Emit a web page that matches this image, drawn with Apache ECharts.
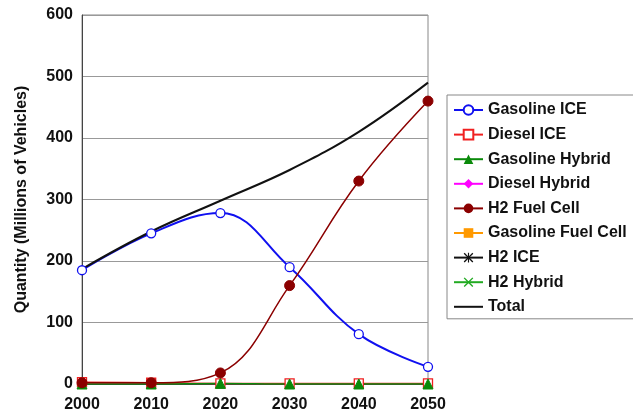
<!DOCTYPE html>
<html>
<head>
<meta charset="utf-8">
<script src="https://cdn.jsdelivr.net/npm/echarts@6/dist/echarts.min.js"></script>
<style>
html, body { margin: 0; padding: 0; background: #fff; }
#main { width: 633px; height: 416px; }
</style>
</head>
<body>
<div id="main"></div>
<script>
var years = [2000, 2010, 2020, 2030, 2040, 2050];
var gasolineIce = [185, 245, 278, 190, 81, 28];
var dieselIce = [3, 2, 1, 1, 1, 1];
var gasolineHybrid = [0, 0, 1, 0, 0, 0];
var dieselHybrid = [];
var h2FuelCell = [2, 2, 18, 160, 330, 460];
var gasolineFuelCell = [];
var h2Ice = [];
var h2Hybrid = [];
var total = [187, 248, 298, 348, 410, 490];

function pairs(vals) {
    return vals.map(function (v, i) { return [years[i], v]; });
}

var xPath = 'path://M1,0 L5,4 L9,0 L10,1 L6,5 L10,9 L9,10 L5,6 L1,10 L0,9 L4,5 L0,1Z';
var starPath = 'path://M1,0 L5,4 L9,0 L10,1 L6,5 L10,9 L9,10 L5,6 L1,10 L0,9 L4,5 L0,1Z M4.4,0 L5.6,0 L5.6,10 L4.4,10Z';

var myChart = echarts.init(document.getElementById('main'));

function mkSeries(name, data, color, symbol, size, hollow, width) {
    return {
        name: name,
        type: 'line',
        smooth: 0.4,
        data: pairs(data),
        symbol: symbol,
        symbolSize: size,
        showSymbol: symbol !== 'none',
        lineStyle: { color: color, width: width || 1.5 },
        itemStyle: hollow ? { color: '#fff', borderColor: color, borderWidth: 1.3 } : { color: color, borderColor: color },
        color: color
    };
}

var font = 'Liberation Sans';

var option = {
    backgroundColor: '#fff',
    animation: false,
    grid: {
        left: 82,
        top: 15,
        right: 205,
        bottom: 32,
        show: true,
        borderColor: '#888',
        borderWidth: 1
    },
    legend: {
        orient: 'vertical',
        left: 447,
        top: 95,
        padding: [7, 8, 4, 6],
        borderColor: '#888',
        borderWidth: 1,
        itemWidth: 29,
        itemHeight: 12,
        itemGap: 8.6,
        textStyle: {
            fontFamily: font,
            fontWeight: 'bold',
            fontSize: 16,
            lineHeight: 16,
            color: '#111'
        },
        data: ['Gasoline ICE', 'Diesel ICE', 'Gasoline Hybrid', 'Diesel Hybrid', 'H2 Fuel Cell',
            'Gasoline Fuel Cell', 'H2 ICE', 'H2 Hybrid', { name: 'Total', itemStyle: { opacity: 0 } }]
    },
    xAxis: {
        type: 'value',
        min: 2000,
        max: 2050,
        interval: 10,
        splitLine: { show: false },
        axisTick: { show: false },
        axisLine: { lineStyle: { color: '#444', width: 1 } },
        axisLabel: {
            margin: 13,
            formatter: function (v) { return String(v); },
            fontFamily: font,
            fontWeight: 'bold',
            fontSize: 16,
            color: '#111'
        }
    },
    yAxis: {
        type: 'value',
        min: 0,
        max: 600,
        interval: 100,
        name: 'Quantity (Millions of Vehicles)',
        nameLocation: 'middle',
        nameGap: 52,
        nameTextStyle: {
            fontFamily: font,
            fontWeight: 'bold',
            fontSize: 16,
            color: '#111'
        },
        splitLine: { lineStyle: { color: '#999', width: 1 } },
        axisTick: { show: false },
        axisLine: { show: true, lineStyle: { color: '#444', width: 1 } },
        axisLabel: {
            margin: 9,
            fontFamily: font,
            fontWeight: 'bold',
            fontSize: 16,
            color: '#111'
        }
    },
    series: [
        mkSeries('Gasoline ICE', gasolineIce, '#1010f0', 'circle', 9, true, 2),
        mkSeries('Diesel ICE', dieselIce, '#f02020', 'rect', 9, true),
        mkSeries('Gasoline Hybrid', gasolineHybrid, '#0a8a0a', 'triangle', 10, false),
        mkSeries('Diesel Hybrid', dieselHybrid, '#ff00ff', 'diamond', 10, false),
        mkSeries('H2 Fuel Cell', h2FuelCell, '#8b0000', 'circle', 10, false),
        mkSeries('Gasoline Fuel Cell', gasolineFuelCell, '#ff9900', 'rect', 10, false),
        mkSeries('H2 ICE', h2Ice, '#111', starPath, 10, false),
        mkSeries('H2 Hybrid', h2Hybrid, '#22aa22', xPath, 10, false),
        mkSeries('Total', total, '#111', 'none', 0, false, 2)
    ]
};

myChart.setOption(option);
</script>
</body>
</html>
